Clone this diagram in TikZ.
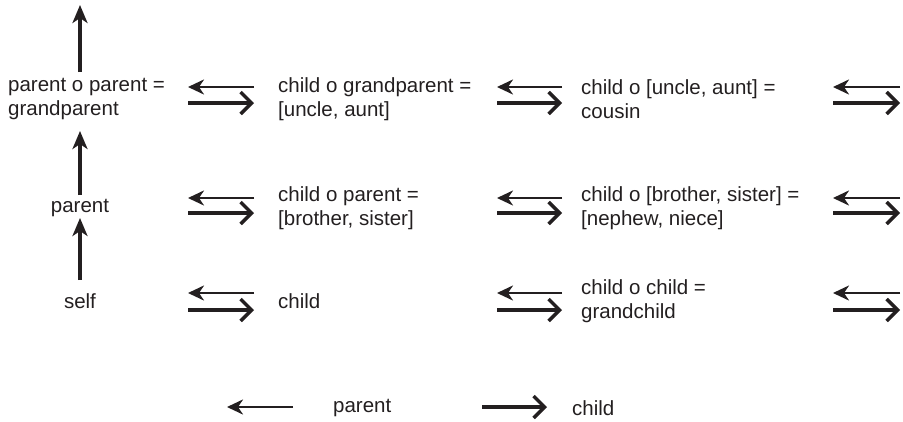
\documentclass[tikz,border=0pt]{standalone}
\usepackage{fontspec}
\setmainfont{Liberation Sans}
\usetikzlibrary{arrows.meta}
\definecolor{ink}{HTML}{231F20}
\begin{document}
\begin{tikzpicture}[x=1pt,y=-1pt,
  lbl/.style={inner sep=0pt,anchor=west,align=left,text=ink,font=\fontsize{20.5}{23.5}\selectfont},
  clbl/.style={lbl,anchor=center,align=center},
  toparent/.style={draw=ink,line width=2.6pt,-{Stealth[length=16pt,width=15pt,inset=5pt]}},
  tochild/.style={draw=ink,line width=3.4pt,-{Straight Barb[length=11pt,width=22pt,line width=3.4pt]}},
  upar/.style={draw=ink,line width=3.2pt,-{Stealth[length=18pt,width=15pt,inset=5pt]}}]
\useasboundingbox (0,0) rectangle (903,421);

% left column
\node[lbl] (gp) at (8,99) {parent o parent =\\grandparent};
\node[clbl] (p) at (80,208) {parent};
\node[clbl] (s) at (80,301) {self};
\coordinate (top) at (80,5);
\coordinate (gpb) at (80,72);
\coordinate (gpt) at (80,131);
\coordinate (pb) at (80,195);
\coordinate (pt) at (80,218);
\coordinate (sb) at (80,280);
\draw[upar] (gpb) -- (top);
\draw[upar] (pb) -- (gpt);
\draw[upar] (sb) -- (pt);

% middle and right columns
\node[lbl] (a1) at (278,99) {child o grandparent =\\{[uncle, aunt]}};
\node[lbl] (b1) at (581,99) {child o [uncle, aunt] =\\cousin};
\node[lbl] (a2) at (278,208) {child o parent =\\{[brother, sister]}};
\node[lbl] (b2) at (581,208) {child o [brother, sister] =\\{[nephew, niece]}};
\node[lbl] (a3) at (278,301) {child};
\node[lbl] (b3) at (581,301) {child o child =\\grandchild};

% arrow pairs
\foreach \r/\yl/\yr in {1/87/103, 2/198/213, 3/293/310}{
  \foreach \c/\xa/\xb in {1/188/254, 2/497/562, 3/833/900}{
    \coordinate (L\r\c a) at (\xa,\yl);
    \coordinate (L\r\c b) at (\xb,\yl);
    \coordinate (R\r\c a) at (\xa,\yr);
    \coordinate (R\r\c b) at (\xb,\yr);
    \draw[toparent] (L\r\c b) -- (L\r\c a);
    \draw[tochild] (R\r\c a) -- (R\r\c b);
  }
}

% legend
\coordinate (lgpa) at (227,407);
\coordinate (lgpb) at (293,407);
\coordinate (lgca) at (482,407);
\coordinate (lgcb) at (547,407);
\draw[toparent] (lgpb) -- (lgpa);
\draw[tochild] (lgca) -- (lgcb);
\node[lbl] (lp) at (333,408) {parent};
\node[lbl] (lc) at (572,408) {child};
\end{tikzpicture}
\end{document}
